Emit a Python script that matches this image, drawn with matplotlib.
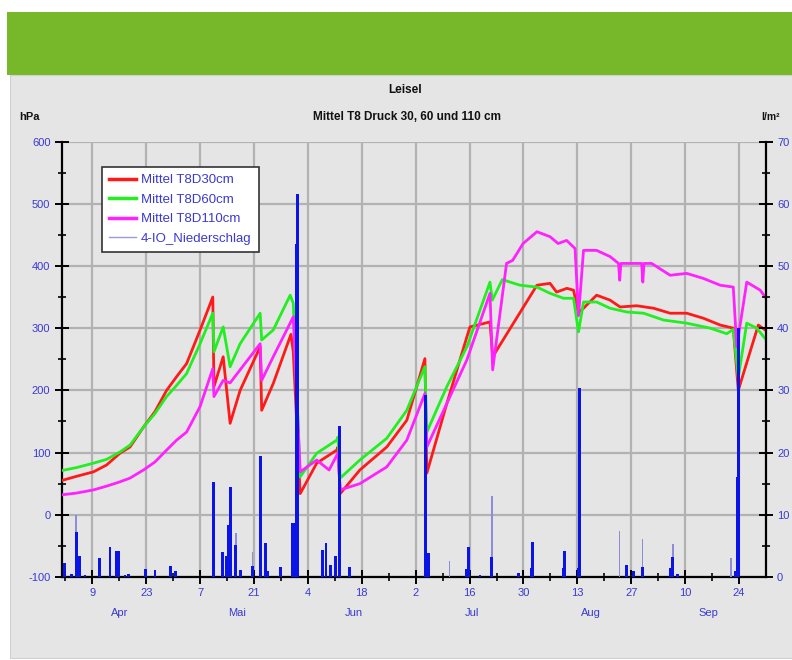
import numpy as np
import pandas as pd
import matplotlib
matplotlib.use("Agg")
import matplotlib.pyplot as plt
import matplotlib.dates as mdates
from matplotlib.patches import Rectangle
from matplotlib.lines import Line2D
from matplotlib.transforms import blended_transform_factory

plt.rcParams['font.family'] = ['Liberation Sans', 'DejaVu Sans']
plt.rcParams['axes.unicode_minus'] = False

START = pd.Timestamp('2012-04-01')
END = pd.Timestamp('2012-10-01')

# ---- data (x = days since 1 April) ----
red_days = [0, 4.0, 8.3, 11.7, 15.2, 17.8, 21.3, 24.3, 27.3, 29.9, 32.5, 36.0, 39.3, 39.6, 42.0, 43.8, 46.4,
            51.6, 52.0, 55.0, 59.6, 60.2,
            62.0, 66.3, 71.5, 71.8, 72.4, 77.5, 84.5, 89.7, 94.4, 94.9, 100.1, 105.3, 106.1, 111.3, 112.0,
            117.4, 123.5, 126.9, 128.6, 131.3, 133.0, 134.3, 135.6, 139.0, 142.5, 145.1, 149.4, 153.8,
            158.1, 162.4, 166.7, 171.1, 174.5, 175.8, 181.0, 182.8]
red_vals = [55, 62, 69, 80, 99, 109, 141, 166, 200, 222, 243, 297, 350, 206, 254, 147, 200,
            270, 168, 211, 290, 262,
            34, 83, 104, 109, 34, 72, 109, 152, 251, 67, 179, 286, 302, 310, 254,
            308, 369, 372, 358, 364, 361, 325, 332, 353, 345, 334, 336, 332,
            324, 324, 316, 305, 300, 200, 305, 297]

green_days = [0, 4.0, 8.3, 11.7, 15.2, 17.8, 21.3, 24.3, 27.3, 29.9, 32.5, 36.0, 39.3, 39.6, 42.0, 43.8, 46.4,
              51.6, 52.0, 55.0, 59.4, 60.2,
              62.0, 66.3, 71.5, 71.8, 72.4, 77.5, 84.5, 89.7, 94.4, 94.9, 100.1, 105.3, 111.3, 111.9, 114.5,
              119.1, 123.5, 126.9, 130.4, 133.0, 134.3, 135.6, 139.0, 142.5, 146.8, 151.2, 156.4, 162.4,
              168.5, 172.8, 174.5, 175.8, 178.0, 180.6, 182.8]
green_vals = [71, 76, 83, 89, 101, 112, 141, 163, 190, 208, 227, 275, 324, 262, 302, 238, 275,
              324, 281, 297, 353, 340,
              61, 99, 120, 125, 59, 88, 123, 168, 238, 133, 206, 270, 374, 345, 378,
              369, 366, 356, 348, 348, 294, 342, 342, 332, 326, 324, 313, 308,
              300, 291, 298, 220, 308, 300, 283]

magenta_days = [0, 4.0, 8.3, 11.7, 15.2, 17.8, 21.3, 24.3, 27.3, 29.9, 32.5, 36.0, 39.3, 39.6, 42.0, 43.8,
                46.4, 51.6, 52.0, 55.0, 60.2,
                62.0, 66.3, 69.5, 71.8, 72.4, 77.5, 84.5, 89.7, 94.4, 94.9, 100.1, 105.3, 111.3, 112.0,
                115.6, 117.2, 119.9, 123.5, 126.9, 129.0, 131.2, 133.4, 134.3, 135.6, 139.0, 142.5,
                144.7, 145.0, 145.3, 147.7, 150.7, 151.0, 151.3, 153.3, 158.1, 162.4, 166.7, 171.1,
                174.5, 175.4, 178.0, 181.5, 182.8]
magenta_vals = [32, 35, 40, 46, 53, 59, 72, 85, 104, 120, 133, 174, 235, 190, 216, 212,
                233, 275, 216, 254, 318,
                69, 88, 72, 99, 40, 50, 77, 120, 195, 109, 179, 249, 356, 233,
                404, 409, 436, 455, 447, 436, 441, 428, 320, 425, 425, 415,
                404, 377, 404, 404, 404, 374, 404, 404, 385, 388, 380, 369,
                366, 270, 374, 361, 350]

rain_days = [0.8, 2.5, 3.8, 4.7, 6.1, 9.8, 12.6, 14.4, 14.9, 16.5, 17.4, 21.9, 24.3, 28.4, 29.5,
             39.4, 41.9, 42.9, 43.4, 43.8, 45.3, 46.4, 49.6, 51.8, 52.9, 53.6, 56.8,
             60.0, 60.5, 61.1, 61.4, 67.9, 68.7, 69.8, 71.2, 72.2, 74.8,
             94.6, 95.3, 105.2, 105.7, 108.7, 111.8, 118.7, 122.2, 122.4, 130.3, 130.6,
             134.2, 134.6, 146.7, 148.6, 150.9, 158.1, 158.8, 159.9, 175.0, 175.5, 175.8]
rain_vals = [2.2, 0.5, 7.3, 3.4, 0.4, 3.0, 4.9, 4.1, 4.1, 0.4, 0.5, 1.3, 1.2, 1.8, 1.0,
             15.3, 4.0, 3.3, 8.4, 14.5, 5.1, 1.1, 1.8, 19.5, 5.4, 1.0, 1.6,
             8.6, 8.6, 53.6, 61.5, 4.3, 5.4, 1.9, 3.4, 24.2, 1.6,
             29.2, 3.8, 1.3, 4.9, 0.3, 3.2, 0.6, 1.4, 5.7, 1.5, 4.1,
             1.5, 30.4, 1.9, 1.0, 1.6, 1.4, 3.2, 0.5, 1.0, 16.0, 40.0]

thin_days = [3.8, 45.3, 49.6, 100.8, 111.8, 144.9, 150.9, 158.8, 173.9]
thin_vals = [10.0, 7.1, 4.0, 2.5, 13.0, 7.4, 6.1, 5.3, 3.1]

series_labels = ['Mittel T8D30cm', 'Mittel T8D60cm', 'Mittel T8D110cm', '4-IO_Niederschlag']


def to_dates(days):
    return START + pd.to_timedelta(np.asarray(days, dtype=float), unit='D')


fig = plt.figure(figsize=(7.92, 6.6), dpi=100, facecolor='white')
W, H = 792.0, 660.0
fig.patches.append(Rectangle((7 / W, 1 - 75 / H), 1, 63 / H, transform=fig.transFigure,
                             facecolor='#77b82b', edgecolor='none', zorder=-10))
fig.patches.append(Rectangle((10 / W, 2 / H), 1, (658 - 75) / H, transform=fig.transFigure,
                             facecolor='#e5e5e5', edgecolor='#d0d0d0', lw=0.8, zorder=-10))

ax = fig.add_axes([61.5 / W, 1 - 577 / H, (766 - 61.5) / W, (577 - 141.5) / H])
ax.set_facecolor('#e5e5e5')
ax2 = ax.twinx()
ax2.patch.set_visible(False)

lw = 2.0
ax.plot(to_dates(red_days), red_vals, color='#ff1a1a', lw=lw, zorder=3)
ax.plot(to_dates(green_days), green_vals, color='#22ee22', lw=lw, zorder=3)
ax.plot(to_dates(magenta_days), magenta_vals, color='#ff22ff', lw=lw, zorder=3)

ax2.bar(to_dates(thin_days), thin_vals, width=0.35, color='#8c8cd8', zorder=2)
ax2.bar(to_dates(rain_days), rain_vals, width=0.75, color='#0a14e6', zorder=3)

ax.set_xlim(START, END)
ax.set_ylim(-100, 600)
ax2.set_ylim(0, 70)

tick_col = '#3a3ad0'
ax.set_yticks(np.arange(-100, 601, 100))
ax.set_yticks(np.arange(-50, 600, 100), minor=True)
ax2.set_yticks(np.arange(0, 71, 10))
ax2.set_yticks(np.arange(5, 70, 10), minor=True)

major_dates = pd.date_range('2012-04-09', '2012-09-24', freq='14D')
minor_dates = pd.date_range('2012-04-02', '2012-09-30', freq='7D')
ax.set_xticks(major_dates)
ax.set_xticks(minor_dates, minor=True)
ax.xaxis.set_major_formatter(mdates.DateFormatter('%-d'))

for a in (ax, ax2):
    a.tick_params(axis='both', which='major', direction='inout', length=10, width=1.4,
                  color='black', labelcolor=tick_col, labelsize=8, pad=3)
    a.tick_params(axis='both', which='minor', direction='inout', length=6, width=1.2, color='black')
    for s in a.spines.values():
        s.set_visible(False)

ax.spines['left'].set_visible(True)
ax.spines['bottom'].set_visible(True)
ax2.spines['right'].set_visible(True)
for s in (ax.spines['left'], ax.spines['bottom'], ax2.spines['right']):
    s.set_color('black')
    s.set_linewidth(1.6)

ax.grid(True, which='major', color='#b2b2b2', lw=1.6, zorder=0)
ax.set_axisbelow(True)

# month labels
months = pd.date_range('2012-04-01', '2012-09-01', freq='MS')
trans = blended_transform_factory(ax.transData, ax.transAxes)
for m in months:
    mid = m + (m + pd.offsets.MonthBegin(1) - m) / 2
    ax.text(mid, -0.072, m.strftime('%b').replace('May', 'Mai'), transform=trans,
            ha='center', va='top', color=tick_col, fontsize=8)

fig.text(405 / W, 1 - 90 / H, 'Leisel', ha='center', va='center', fontsize=8.5, fontweight='bold', color='#111111')
fig.text(407 / W, 1 - 117 / H, 'Mittel T8 Druck 30, 60 und 110 cm', ha='center', va='center',
         fontsize=8.5, fontweight='bold', color='#111111')
fig.text(30 / W, 1 - 117 / H, 'hPa', ha='center', va='center', fontsize=8, fontweight='bold', color='#111111')
fig.text(771 / W, 1 - 117 / H, 'l/m²', ha='center', va='center', fontsize=7.5, fontweight='bold', color='#111111')

handles = [Line2D([], [], color='#ff1a1a', lw=2.5),
           Line2D([], [], color='#22ee22', lw=2.5),
           Line2D([], [], color='#ff22ff', lw=2.5),
           Line2D([], [], color='#9a9ae0', lw=1.0)]
leg = ax2.legend(handles, series_labels, loc='upper left',
                 bbox_to_anchor=((102 - 61.5) / (766 - 61.5), 1 - (167 - 141.5) / 435.5),
                 borderaxespad=0, frameon=True, fancybox=False, fontsize=9.5, handlelength=2.0,
                 handletextpad=0.4, labelspacing=0.55, borderpad=0.55, labelcolor=tick_col)
leg.get_frame().set_edgecolor('#333333')
leg.get_frame().set_linewidth(1.2)
leg.get_frame().set_facecolor('white')
leg.get_frame().set_alpha(1)

fig.savefig('out.png', dpi=100, facecolor='white')
